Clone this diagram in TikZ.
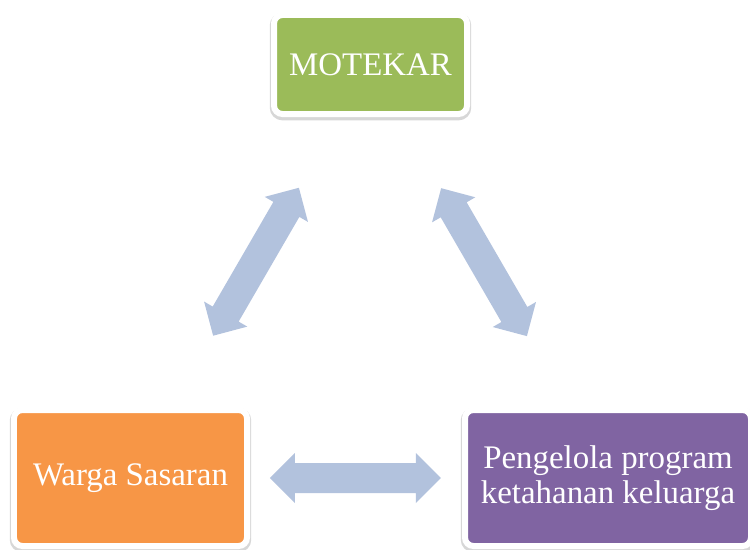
\documentclass[tikz,border=0pt]{standalone}
\usepackage{fontspec}
\setmainfont{Liberation Serif}
\usetikzlibrary{calc}

\definecolor{hijau}{HTML}{9BBB59}
\definecolor{oranye}{HTML}{F79646}
\definecolor{ungu}{HTML}{8064A2}
\definecolor{biru}{HTML}{B2C2DD}

\tikzset{
  kotak/.style={rectangle, rounded corners=6pt, draw=white, line width=0.15cm,
    text=white, align=center, font=\fontsize{23.4}{25}\selectfont,
    preaction={draw=black!45, line width=0.21cm, opacity=0.35,
      transform canvas={yshift=-1.5pt}}},
  panah/.style={fill=biru, draw=none}
}

% double block arrow, centred at #1 and turned by #2
\newcommand{\panahdua}[2]{%
  \begin{scope}[shift={#1}, rotate=#2]
    \fill[panah] (-2.1375, 0) -- (-1.5125, 0.625) -- (-1.5125, 0.375)
      -- (1.5125, 0.375) -- (1.5125, 0.625) -- (2.1375, 0)
      -- (1.5125, -0.625) -- (1.5125, -0.375) -- (-1.5125, -0.375)
      -- (-1.5125, -0.625) -- cycle;
  \end{scope}}

\begin{document}
\begin{tikzpicture}
  \useasboundingbox (0, 0) rectangle (18.75, 13.725);
  \clip (0, 0) rectangle (18.75, 13.725);

  \node[kotak, fill=hijau, minimum width=4.825cm, minimum height=2.475cm]
    (motekar) at (9.2625, 12.1125) {MOTEKAR};
  \node[kotak, fill=oranye, minimum width=5.825cm, minimum height=3.4cm]
    (warga) at (3.2625, 1.775) {Warga Sasaran};
  \node[kotak, fill=ungu, minimum width=7.15cm, minimum height=3.4cm]
    (pengelola) at (15.2, 1.775) {Pengelola program\\ketahanan keluarga};

  \panahdua{($(warga)!0.523!(motekar)$)}{59.9}
  \panahdua{($(pengelola)!0.522!(motekar)$)}{120.1}
  \panahdua{($(warga)!0.471!(pengelola)$)}{0}
\end{tikzpicture}
\end{document}
